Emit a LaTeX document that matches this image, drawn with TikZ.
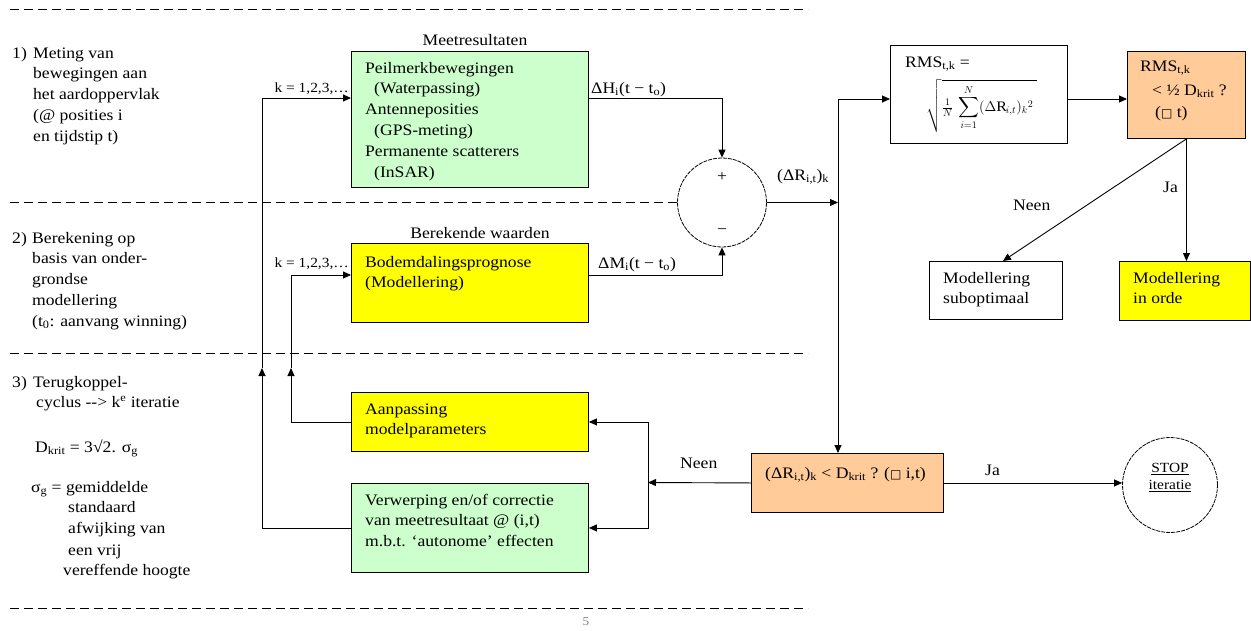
\documentclass[tikz,border=0pt]{standalone}
\usepackage{amsmath}
\usepackage{fontspec}
\setmainfont{Liberation Serif}[FakeStretch=1.1]
\newfontfamily\symbolfont{DejaVu Sans}
\usetikzlibrary{arrows.meta}
\definecolor{meetgreen}{HTML}{CCFFCC}
\definecolor{modelyellow}{HTML}{FFFF00}
\definecolor{toetsorange}{HTML}{FFCC99}
\newcommand{\forallbox}{{\symbolfont\fontsize{12}{14}\selectfont □}}
% left-aligned block of lines whose baseline is that of its first line
\newcommand{\linesL}[1]{\begin{tabular}[t]{@{}l@{}}#1\end{tabular}}
\newcommand{\linesC}[1]{\begin{tabular}[t]{@{}c@{}}#1\end{tabular}}
\begin{document}
\begin{tikzpicture}[x=1pt,y=-1pt,
  every node/.style={inner sep=0pt, font=\fontsize{16}{20.8}\selectfont},
  txt/.style={anchor=base west},
  box/.style={draw, line width=0.9pt, anchor=north west},
  lbl/.style={font=\fontsize{14}{17}\selectfont},
  wire/.style={line width=0.9pt},
  arr/.style={wire, -{Triangle[length=8pt,width=7pt]}},
  sep/.style={line width=1pt, dash pattern=on 9pt off 5pt},
  ring/.style={draw, circle, line width=0.8pt, dash pattern=on 4pt off 1pt}
]
\useasboundingbox (0,0) rectangle (1251,630);
\fill[white] (0,0) rectangle (1251,630);

% ---- left column: phase descriptions ----
\node[txt] (n1) at (12,58) {1)};
\node[txt] (t1) at (33,58) {\linesL{Meting van\\bewegingen aan\\het aardoppervlak\\(@ posities i\\en tijdstip t)}};
\node[txt] (n2) at (12,243) {2)};
\node[txt] (t2) at (32,243) {\linesL{Berekening op\\basis van onder-\\grondse\\modellering\\(t\textsubscript{0}: aanvang winning)}};
\node[txt] (n3) at (12,387) {3)};
\node[txt] (t3a) at (33,387) {\linesL{Terugkoppel-\\\hspace*{3pt}cyclus -{}-{}> k\textsuperscript{e} iteratie}};
\node[txt] (t3b) at (35,452) {D\textsubscript{krit} = 3√2. σ\textsubscript{g}};
\node[txt] (t3c) at (31,492) {σ\textsubscript{g} = gemiddelde};
\node[txt, font=\fontsize{16}{21.5}\selectfont] (t3d) at (68,512) {\linesL{standaard\\afwijking van\\een vrij}};
\node[txt] (t3e) at (63,575) {vereffende hoogte};

% ---- measured and computed values ----
\node[box, fill=meetgreen, minimum width=237pt, minimum height=136pt] (g1) at (351,51) {};
\node[txt] (g1t) at (365,73) {\linesL{Peilmerkbewegingen\\\hspace*{9pt}(Waterpassing)\\Antenneposities\\\hspace*{9pt}(GPS-meting)\\Permanente scatterers\\\hspace*{9pt}(InSAR)}};
\node[anchor=base] (g1title) at (475,45) {Meetresultaten};

\node[box, fill=modelyellow, minimum width=237pt, minimum height=79pt] (y1) at (351,243) {};
\node[txt] (y1t) at (365,267) {\linesL{Bodemdalingsprognose\\(Modellering)}};
\node[anchor=base] (y1title) at (480,238) {Berekende waarden};

\node[lbl, anchor=base east] (k1) at (349,92) {k = 1,2,3,…};
\node[lbl, anchor=base east] (k2) at (349,267) {k = 1,2,3,…};

\node[txt] (dh) at (591,93) {ΔH\textsubscript{i}(t − t\textsubscript{o})};
\node[txt] (dm) at (598,268) {ΔM\textsubscript{i}(t − t\textsubscript{o})};

% ---- difference junction ----
\node[ring, minimum size=89pt] (sum) at (722,202.5) {};
\node (plus) at (722,177) {+};
\node (minus) at (722,232) {−};
\node[txt] (dr) at (777,180) {(ΔR\textsubscript{i,t})\textsubscript{k}};

% ---- RMS test ----
\node[box, minimum width=177pt, minimum height=98pt] (rms) at (890,45) {};
\node[txt] (rmst) at (905,67) {RMS\textsubscript{t,k} =};
\node[font=\fontsize{14.5}{18}\selectfont] (rmsf) at (982,106) {$\displaystyle\sqrt{\tfrac{1}{N}\,\sum_{i=1}^{N}(\Delta\mathrm{R}_{i,t})_k{}^2\;}$};

\node[box, fill=toetsorange, minimum width=118pt, minimum height=87pt] (o1) at (1127,51) {};
\node[txt] (o1a) at (1140,71) {RMS\textsubscript{t,k}};
\node[txt] (o1b) at (1152,95) {< ½ D\textsubscript{krit} ?};
\node[txt] (o1c) at (1155,117) {(\forallbox{} t)};

\node[box, minimum width=133pt, minimum height=58pt] (sub) at (929,261) {};
\node[txt] (subt) at (943,283) {\linesL{Modellering\\suboptimaal}};
\node[box, fill=modelyellow, minimum width=131pt, minimum height=59pt] (ok) at (1119,261) {};
\node[txt] (okt) at (1133,283) {\linesL{Modellering\\in orde}};
\node[txt] (neen1) at (1013,210) {Neen};
\node[txt] (ja1) at (1163,192) {Ja};

% ---- per-point test and feedback ----
\node[box, fill=toetsorange, minimum width=192pt, minimum height=59pt] (o2) at (751,453) {};
\node[txt] (o2t) at (765,478) {(ΔR\textsubscript{i,t})\textsubscript{k} < D\textsubscript{krit} ? (\forallbox{} i,t)};
\node[ring, minimum size=95pt] (stop) at (1170,485) {};
\node[anchor=base, font=\fontsize{14}{17.5}\selectfont] (stopt) at (1170,472) {\linesC{\underline{STOP}\\\underline{iteratie}}};
\node[txt] (ja2) at (985,475) {Ja};
\node[txt] (neen2) at (680,468) {Neen};

\node[box, fill=modelyellow, minimum width=237pt, minimum height=59pt] (y2) at (351,392) {};
\node[txt] (y2t) at (365,414) {\linesL{Aanpassing\\modelparameters}};
\node[box, fill=meetgreen, minimum width=237pt, minimum height=89pt] (g2) at (351,483) {};
\node[txt] (g2t) at (365,505) {\linesL{Verwerping en/of correctie\\van meetresultaat @ (i,t)\\m.b.t. ‘autonome’ effecten}};

\node[font=\fontsize{12}{14}\selectfont, text=gray] (pg) at (586,622) {5};

% ---- separators ----
\draw[sep] (10,9) -- (808,9);
\draw[sep] (sum.west -| 10,0) -- (sum.west);
\draw[sep] (10,353) -- (808,353);
\draw[sep] (10,608) -- (808,608);

% ---- connectors ----
\coordinate (fbA) at (262,368);
\coordinate (fbB) at (291,368);
\coordinate (kin1) at ([yshift=-47pt]g1.north west);
\coordinate (kin2) at ([yshift=-32pt]y1.north west);
\coordinate (hout) at ([yshift=-47pt]g1.north east);
\coordinate (mout) at ([yshift=-32pt]y1.north east);
\coordinate (rj) at (838,202.5);
\coordinate (rtop) at (838,99);
\coordinate (nj) at (648,482.5);

\draw[arr] (g2.west) -| (fbA);
\draw[arr] (fbA) |- (kin1);
\draw[arr] (y2.west) -| (fbB);
\draw[arr] (fbB) |- (kin2);
\draw[arr] (hout) -| (sum.north);
\draw[arr] (mout) -| (sum.south);
\draw[arr] (sum.east) -- (rj);
\draw[arr] (rtop) -- (rtop |- o2.north);
\draw[arr] (rtop) -- (rtop -| rms.west);
\draw[arr] (rtop -| rms.east) -- (rtop -| o1.west);
\draw[arr] (o1.south) -- (o1.south |- ok.north);
\draw[arr] (o1.south) -- ([xshift=7pt]sub.north);
\draw[arr] (o2.east) -- (o2.east -| stop.west);
\draw[arr] (o2.west) -- (nj);
\draw[arr] (nj) |- (y2.east);
\draw[arr] (nj) |- (g2.east);
\end{tikzpicture}
\end{document}
